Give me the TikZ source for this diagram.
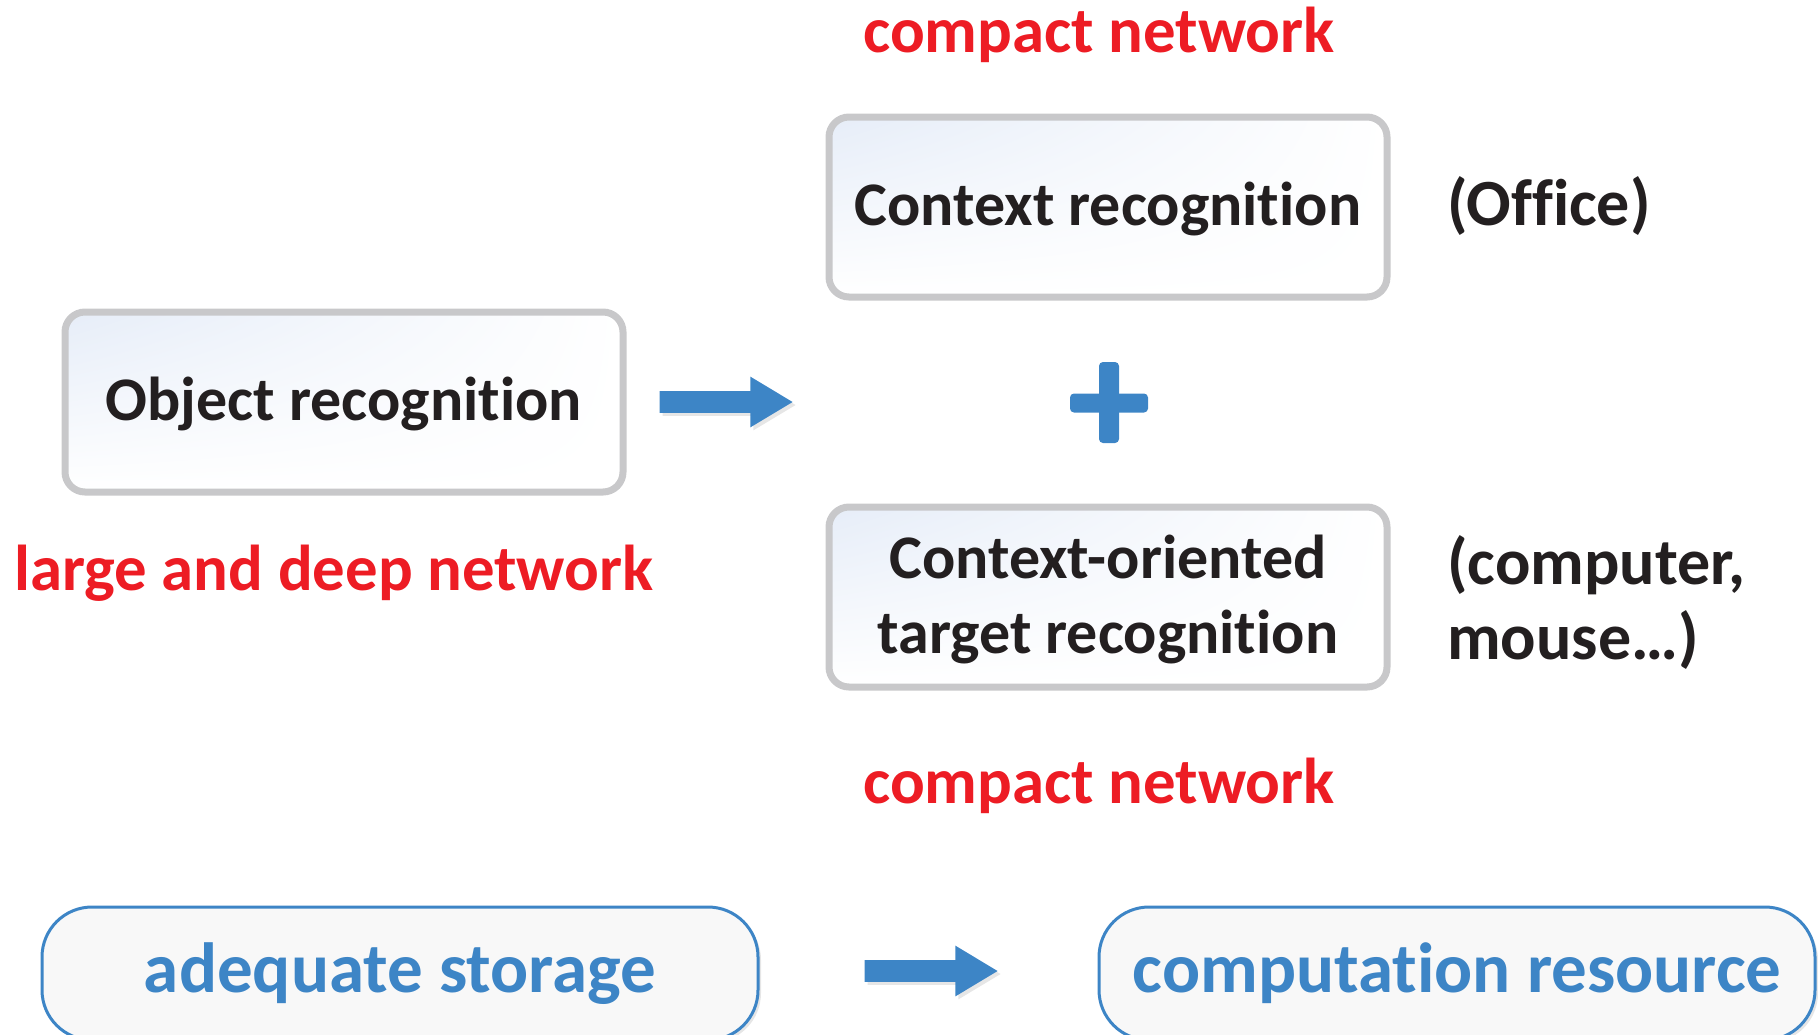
\documentclass[tikz,border=0pt]{standalone}
\usepackage{fontspec}
\setmainfont{Carlito}[RawFeature={-liga;-clig;-calt;-dlig}]
\usetikzlibrary{shapes.arrows,shadows,shadings}

\definecolor{netred}{RGB}{237,28,36}
\definecolor{resblue}{RGB}{61,133,198}
\definecolor{boxgray}{RGB}{200,200,202}
\definecolor{boxtint}{RGB}{230,237,248}
\definecolor{boxfill}{RGB}{248,248,248}
\definecolor{txtblack}{RGB}{35,31,32}

\begin{document}
\begin{tikzpicture}[x=0.5pt,y=-0.5pt,
    recbox/.style={draw=boxgray, line width=3.5pt, rounded corners=10pt,
      minimum width=279pt, minimum height=90pt, align=center,
      upper left=boxtint, upper right=white, lower left=white, lower right=white,
      text height=25.7pt, text depth=7pt,
      text=txtblack, font=\fontsize{31}{37.5}\selectfont\bfseries},
    resbox/.style={draw=resblue, line width=1.5pt, rounded corners=25pt,
      fill=boxfill, minimum width=358pt, minimum height=66.5pt,
      drop shadow={opacity=0.2, shadow xshift=1.5pt, shadow yshift=-1.5pt},
      text=resblue, font=\fontsize{35.5}{42}\selectfont\bfseries},
    blockarrow/.style={single arrow, fill=resblue, inner sep=5.25pt,
      minimum height=66.5pt, single arrow head extend=7.25pt,
      single arrow head indent=0pt, single arrow tip angle=62,
      drop shadow={opacity=0.2, shadow xshift=1.5pt, shadow yshift=-1.5pt}},
    rednote/.style={text=netred, font=\fontsize{32.4}{38}\selectfont\bfseries},
    sidenote/.style={anchor=west, align=left, text=txtblack,
      font=\fontsize{33}{37.5}\selectfont\bfseries}]

  \useasboundingbox (0,0) rectangle (1818,1034);

  % upper part
  \node[recbox] (objrec) at (344,402) {Object recognition};
  \node[recbox] (ctxrec) at (1108,207) {Context recognition};
  \node[recbox, text height=63.2pt] (tgtrec) at (1108,597)
    {Context-oriented\\target recognition};
  \node[blockarrow] (arrA) at (717,402) {};

  % plus sign
  \fill[resblue, rounded corners=2pt] (1070,393.5) rectangle (1148,412.5);
  \fill[resblue, rounded corners=2pt] (1099,362) rectangle (1119,443);

  \node[rednote] (cmpA) at (1099,35) {compact network};
  \node[rednote] (cmpB) at (1099,786) {compact network};
  \node[rednote] (deep) at (334,573.5) {large and deep network};
  \node[sidenote] (office) at (1440,206) {(Office)};
  \node[sidenote] (things) at (1440,602) {(computer,\\mouse…)};

  % lower part
  \node[resbox] (storage) at (400,973.5) {adequate storage};
  \node[resbox] (compute) at (1457,973.5) {computation resource};
  \node[blockarrow] (arrB) at (922,971) {};
\end{tikzpicture}
\end{document}
